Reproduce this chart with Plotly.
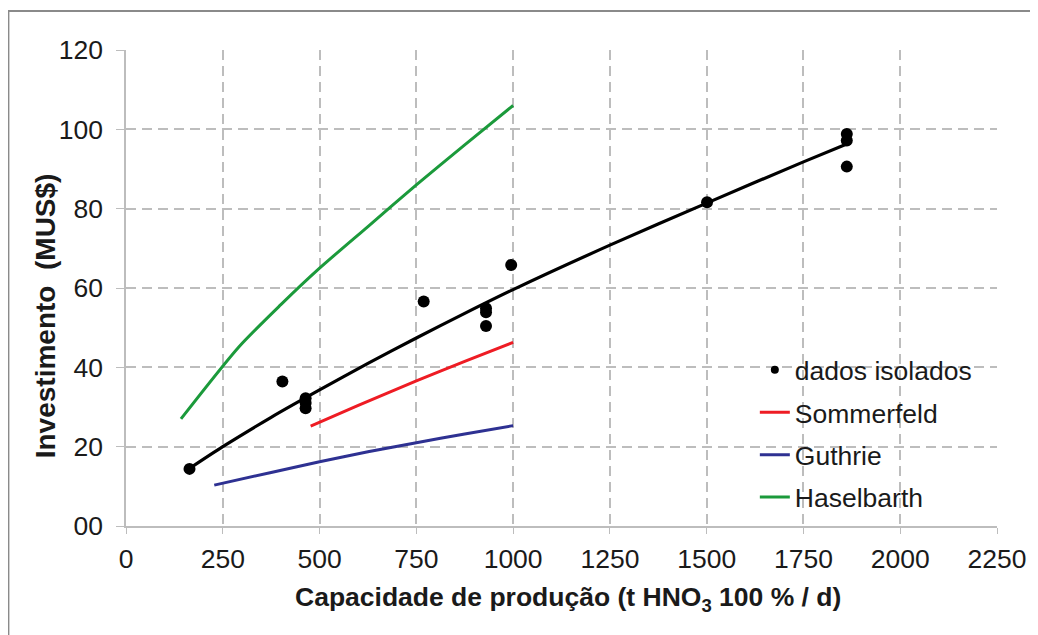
import plotly.graph_objects as go

# ---- data ----
dados_x = [164, 404, 464, 464, 464, 769, 930, 930, 930, 995, 1501, 1862, 1862, 1862]
dados_y = [14.4, 36.4, 32.2, 31.0, 29.7, 56.6, 54.9, 53.9, 50.4, 65.8, 81.6, 98.8, 97.2, 90.6]

fit_x = [164, 250, 375, 500, 625, 750, 875, 1000, 1250, 1500, 1750, 1862]
fit_y = [14.5, 20.0, 27.4, 34.3, 41.0, 47.4, 53.6, 59.6, 70.8, 81.4, 91.8, 96.3]

somm_x = [477, 600, 750, 875, 1000]
somm_y = [25.2, 30.4, 36.6, 41.5, 46.3]

guth_x = [228, 375, 500, 625, 750, 875, 1000]
guth_y = [10.3, 13.5, 16.2, 18.7, 21.0, 23.2, 25.3]

hasel_x = [142, 292, 400, 500, 625, 750, 875, 1000]
hasel_y = [27.0, 45.2, 55.8, 65.0, 75.5, 86.0, 96.1, 106.0]

x_ticks = [0, 250, 500, 750, 1000, 1250, 1500, 1750, 2000, 2250]
y_ticks = [0, 20, 40, 60, 80, 100, 120]
y_tick_text = ["00", "20", "40", "60", "80", "100", "120"]

FONT = "Liberation Sans, Arial, sans-serif"
TXT = "#1a1a1a"
GRID = "#bdbdbd"

fig = go.Figure()

fig.add_trace(go.Scatter(x=fit_x, y=fit_y, mode="lines",
                         line=dict(color="black", width=3.2, shape="spline", smoothing=0.8),
                         showlegend=False, hoverinfo="skip"))
fig.add_trace(go.Scatter(x=dados_x, y=dados_y, mode="markers",
                         marker=dict(color="black", size=12), showlegend=False,
                         name="dados isolados"))
fig.add_trace(go.Scatter(x=[None], y=[None], mode="markers", marker=dict(color="black", size=8),
                         name="dados isolados", legendgroup="a"))
fig.add_trace(go.Scatter(x=somm_x, y=somm_y, mode="lines",
                         line=dict(color="#ee1c24", width=3, shape="spline", smoothing=0.8),
                         name="Sommerfeld", legendgroup="b"))
fig.add_trace(go.Scatter(x=guth_x, y=guth_y, mode="lines",
                         line=dict(color="#2e3192", width=3, shape="spline", smoothing=0.8),
                         name="Guthrie", legendgroup="c"))
fig.add_trace(go.Scatter(x=hasel_x, y=hasel_y, mode="lines",
                         line=dict(color="#1b9a3b", width=3, shape="spline", smoothing=0.7),
                         name="Haselbarth", legendgroup="d"))

# page has an 8px body margin: figure origin sits at (8, 8) of the window
OFF = 8
W, H = 1030, 627
ML, MT = 126 - OFF, 50 - OFF
MR = W - (1000 - OFF)
MB = H - (526 - OFF)
PW, PH = W - ML - MR, H - MT - MB

def px(xabs):
    return (xabs - OFF - ML) / PW

def py(yabs):
    return 1 - (yabs - OFF - MT) / PH

fig.update_layout(
    width=W, height=H,
    margin=dict(l=ML, r=MR, t=MT, b=MB),
    paper_bgcolor="white", plot_bgcolor="white",
    font=dict(family=FONT, size=26.5, color=TXT),
    legend=dict(x=px(757), y=py(346), xanchor="left", yanchor="top",
                bgcolor="rgba(0,0,0,0)", font=dict(size=26.5, color=TXT),
                tracegroupgap=5),
    xaxis=dict(range=[0, 2250], tickvals=x_ticks, showgrid=True, gridcolor=GRID,
               griddash="10px,6px", gridwidth=1.5, zeroline=False, showline=True,
               linecolor=GRID, linewidth=1.5, ticks="outside", ticklen=6,
               tickcolor=GRID, tickfont=dict(size=26.5, color=TXT), ticklabelstandoff=2),
    yaxis=dict(range=[0, 120], tickvals=y_ticks, ticktext=y_tick_text, showgrid=True,
               gridcolor=GRID, griddash="10px,6px", gridwidth=1.5, zeroline=False,
               showline=True, linecolor=GRID, linewidth=1.5, ticks="outside",
               ticklen=8, tickcolor=GRID, tickfont=dict(size=26.5, color=TXT),
               ticklabelstandoff=8),
    annotations=[
        dict(text="<b>Investimento&nbsp; (MUS$)</b>", x=px(45), y=py(316), xref="paper",
             yref="paper", textangle=-90, showarrow=False, font=dict(size=28, color=TXT),
             xanchor="center", yanchor="middle"),
        dict(text="<b>Capacidade de produção (t HNO<sub>3</sub> 100 % / d)</b>", x=px(570),
             y=py(599), xref="paper", yref="paper", showarrow=False,
             font=dict(size=26.5, color=TXT), xanchor="center", yanchor="middle"),
    ],
    shapes=[dict(type="rect", xref="paper", yref="paper", x0=px(8), x1=px(1036.5),
                 y0=py(650), y1=py(11), line=dict(color="#8a8a8a", width=2),
                 fillcolor="rgba(0,0,0,0)", layer="below")],
)

fig.write_html("out.html")
